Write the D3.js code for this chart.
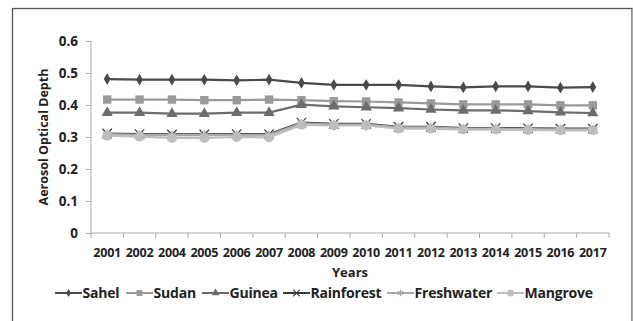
<!DOCTYPE html>
<html>
<head>
<meta charset="utf-8">
<script src="https://cdn.jsdelivr.net/npm/d3@7"></script>
<style>
  body { margin: 0; background: #fff; }
  svg text { font-family: "Open Sans", Lato, sans-serif; font-weight: bold; fill: #222; }
</style>
</head>
<body>
<svg id="chart" width="633" height="321"></svg>
<script>
// data
var years = ["2001", "2002", "2004", "2005", "2006", "2007", "2008", "2009",
    "2010", "2011", "2012", "2013", "2014", "2015", "2016", "2017"];
var sahel = [0.481, 0.479, 0.479, 0.479, 0.477, 0.479, 0.469, 0.463,
    0.463, 0.463, 0.458, 0.455, 0.458, 0.458, 0.454, 0.456];
var sudan = [0.417, 0.417, 0.417, 0.415, 0.415, 0.417, 0.415, 0.412,
    0.411, 0.408, 0.405, 0.402, 0.402, 0.402, 0.399, 0.399];
var guinea = [0.376, 0.376, 0.373, 0.373, 0.376, 0.376, 0.401, 0.396,
    0.393, 0.390, 0.386, 0.383, 0.383, 0.381, 0.377, 0.375];
var rainforest = [0.311, 0.309, 0.308, 0.308, 0.309, 0.309, 0.345, 0.341,
    0.341, 0.332, 0.332, 0.328, 0.328, 0.327, 0.326, 0.326];
var freshwater = [0.309, 0.307, 0.306, 0.306, 0.307, 0.307, 0.343, 0.339,
    0.339, 0.330, 0.330, 0.326, 0.326, 0.325, 0.324, 0.324];
var mangrove = [0.304, 0.301, 0.297, 0.297, 0.300, 0.299, 0.338, 0.336,
    0.336, 0.326, 0.326, 0.323, 0.323, 0.322, 0.321, 0.321];
var yTicks = [0, 0.1, 0.2, 0.3, 0.4, 0.5, 0.6];

var series = [
    { name: "Sahel", values: sahel, color: "#4a4a4a", marker: "diamond" },
    { name: "Sudan", values: sudan, color: "#9a9a9a", marker: "square" },
    { name: "Guinea", values: guinea, color: "#6c6c6c", marker: "triangle" },
    { name: "Rainforest", values: rainforest, color: "#3a3a3a", marker: "cross" },
    { name: "Freshwater", values: freshwater, color: "#a8a8a8", marker: "star" },
    { name: "Mangrove", values: mangrove, color: "#bdbdbd", marker: "circle" }
];

var svg = d3.select("#chart");

margin = { top: 41, right: 24, bottom: 88, left: 91 };
width = 633;
height = 321;

// outer frame
svg.append("rect")
    .attr("x", 12.5).attr("y", 8.5)
    .attr("width", 619.5).attr("height", 320)
    .attr("fill", "none")
    .attr("stroke", "#555")
    .attr("stroke-width", 1.3);
svg.append("line")
    .attr("x1", 632.5).attr("x2", 632.5).attr("y1", 9).attr("y2", 321)
    .attr("stroke", "#aaa").attr("stroke-width", 1.2);

var x = d3.scaleBand()
    .domain(years)
    .range([margin.left, 609]);

var y = d3.scaleLinear()
    .domain([0, 0.6])
    .range([233, margin.top]);

// y axis
var yAxis = g => g
    .attr("transform", `translate(${margin.left},0)`)
    .call(d3.axisLeft(y).tickValues(yTicks).tickFormat(d => d === 0 ? "0" : d3.format(".1f")(d)).tickSize(5).tickPadding(8))
    .call(g => g.select(".domain").attr("stroke", "#aaa").attr("d", `M0,${y(0)}V${y(0.6)}`))
    .call(g => g.selectAll(".tick line").attr("stroke", "#aaa"))
    .call(g => g.selectAll(".tick text").attr("font-size", 13.5).attr("fill", "#222")
        .attr("font-family", "'Open Sans', sans-serif"));

svg.append("g").call(yAxis);

// x axis, ticks sit between the categories
var bounds = years.map(d => x(d)).concat([x.range()[1]]);
var xg = svg.append("g").attr("transform", `translate(0,${y(0)})`);
xg.append("line")
    .attr("x1", margin.left).attr("x2", 609)
    .attr("stroke", "#aaa");
xg.selectAll("line.tk")
    .data(bounds)
    .join("line")
    .attr("class", "tk")
    .attr("x1", d => d).attr("x2", d => d)
    .attr("y1", 0).attr("y2", 5)
    .attr("stroke", "#aaa");
xg.selectAll("text")
    .data(years)
    .join("text")
    .attr("x", d => x(d) + x.bandwidth() / 2)
    .attr("y", 24)
    .attr("text-anchor", "middle")
    .attr("font-size", 12.5)
    .attr("letter-spacing", -0.2)
    .text(d => d);

// axis titles
svg.append("text")
    .attr("transform", `translate(48,${(y(0) + y(0.6)) / 2}) rotate(-90)`)
    .attr("text-anchor", "middle")
    .attr("font-size", 12.5)
    .text("Aerosol Optical Depth");

svg.append("text")
    .attr("x", (margin.left + 609) / 2)
    .attr("y", 277)
    .attr("text-anchor", "middle")
    .attr("font-size", 13)
    .text("Years");

var symbols = {
    diamond: d3.symbol().type(d3.symbolDiamond).size(40),
    square: d3.symbol().type(d3.symbolSquare).size(70),
    triangle: d3.symbol().type(d3.symbolTriangle).size(55),
    cross: d3.symbol().type(d3.symbolX).size(60),
    star: d3.symbol().type(d3.symbolAsterisk).size(60),
    circle: d3.symbol().type(d3.symbolCircle).size(75)
};

function drawMarker(g, s, k) {
    var p = g.append("path").attr("d", symbols[s.marker]())
        .attr("transform", `scale(${k})`);
    if (s.marker === "cross" || s.marker === "star") {
        p.attr("fill", "none").attr("stroke", s.color).attr("stroke-width", 1.2 / k);
    } else {
        p.attr("fill", s.color);
    }
}

var line = d3.line()
    .x((d, i) => x(years[i]) + x.bandwidth() / 2)
    .y(d => y(d));

series.forEach(function (s) {
    var g = svg.append("g");
    g.append("path")
        .attr("d", line(s.values))
        .attr("fill", "none")
        .attr("stroke", s.color)
        .attr("stroke-width", 2.2);
    s.values.forEach(function (v, i) {
        var m = g.append("g")
            .attr("transform", `translate(${x(years[i]) + x.bandwidth() / 2},${y(v)})`);
        drawMarker(m, s, 1);
    });
});

// legend
var legendX = [55, 126, 202, 283, 387, 497];
var legend = svg.append("g").attr("transform", "translate(0,293)");
series.forEach(function (s, i) {
    var g = legend.append("g").attr("transform", `translate(${legendX[i]},0)`);
    g.append("line")
        .attr("x1", 0).attr("x2", 27)
        .attr("stroke", s.color).attr("stroke-width", 2);
    var m = g.append("g").attr("transform", "translate(13.5,0)");
    drawMarker(m, s, 0.7);
    g.append("text")
        .attr("x", 27.5)
        .attr("y", 5)
        .attr("font-size", 14)
        .attr("letter-spacing", -0.2)
        .text(s.name);
});
</script>
</body>
</html>
